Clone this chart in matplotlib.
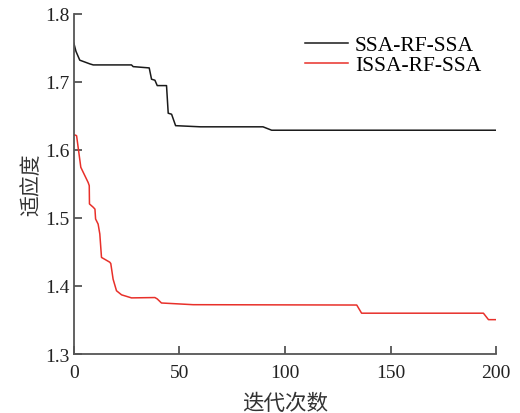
import matplotlib.pyplot as plt

plt.rcParams['font.family'] = ['Liberation Serif', 'Noto Sans CJK SC']

# SSA-RF-SSA
ssa_x = [0, 1, 2.8, 7.6, 9.2, 27.3, 28.1, 35.7, 36.8, 38.4, 39.5, 43.9, 44.7,
         46.3, 48.2, 60, 89.6, 93.7, 200]
ssa_y = [1.757, 1.745, 1.732, 1.7265, 1.725, 1.725, 1.7225, 1.7206, 1.704,
         1.7025, 1.6946, 1.6946, 1.654, 1.6525, 1.6357, 1.634, 1.634, 1.629, 1.629]

# ISSA-RF-SSA
issa_x = [0, 0.5, 1.3, 3.3, 6.8, 7.3, 7.4, 9.2, 10, 10.3, 11.5, 12.3, 13.1,
          17, 17.5, 18.6, 20.2, 22.6, 27.3, 38.4, 39.5, 41.5, 56.5, 134,
          136.3, 194, 196.4, 200]
issa_y = [1.622, 1.622, 1.621, 1.5745, 1.552, 1.5475, 1.5206, 1.5157, 1.513,
          1.4985, 1.491, 1.4765, 1.442, 1.435, 1.433, 1.41, 1.393, 1.387,
          1.3825, 1.383, 1.381, 1.375, 1.3725, 1.372, 1.360, 1.360, 1.3505, 1.3505]

fig = plt.figure(figsize=(5.2, 4.14), dpi=100)
ax = fig.add_axes([0.142, 0.1425, 0.812, 0.8215])

ax.plot(ssa_x, ssa_y, color='#1a1a1a', lw=1.1, label='SSA-RF-SSA')
ax.plot(issa_x, issa_y, color='#e8302a', lw=1.1, label='ISSA-RF-SSA')

ax.set_xlim(0, 200)
ax.set_ylim(1.3, 1.8)
ax.set_xticks([0, 50, 100, 150, 200])
ax.set_yticks([1.3, 1.4, 1.5, 1.6, 1.7, 1.8])

for s in ['top', 'right']:
    ax.spines[s].set_visible(False)
for s in ['left', 'bottom']:
    ax.spines[s].set_color('#555555')
    ax.spines[s].set_linewidth(1.3)
ax.tick_params(direction='in', length=6, width=1.3, color='#555555',
               labelsize=14, labelcolor='#222222', pad=3)
ax.tick_params(axis='x', pad=7)

ax.set_xlabel('迭代次数', fontsize=15.5, color='#333333', fontweight='light',
              family=['Noto Sans CJK SC'], labelpad=8)
ax.set_ylabel('适应度', fontsize=15, color='#333333', fontweight='light',
              family=['Noto Sans CJK SC'], labelpad=2)

ax.legend(loc='upper right', frameon=False, fontsize=15.5, handlelength=2.0,
          handletextpad=0.3, labelspacing=0.0, bbox_to_anchor=(1.01, 0.995))

fig.savefig('out.png')
